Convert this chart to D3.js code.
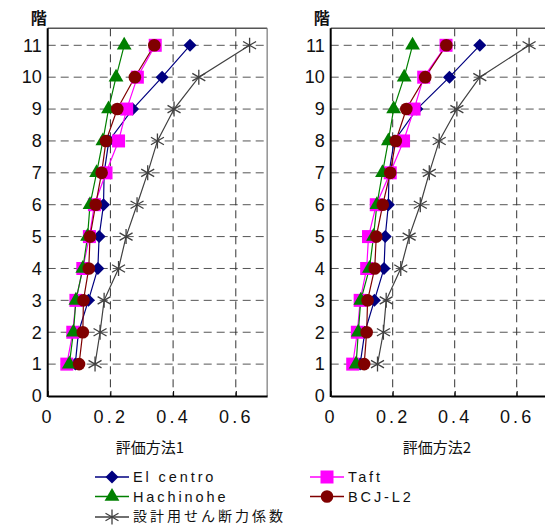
<!DOCTYPE html>
<html><head><meta charset="utf-8">
<script src="https://cdn.jsdelivr.net/npm/d3@7"></script>
<style>
body{margin:0;background:#fff;}
svg{display:block;font-family:"Liberation Sans","Noto Sans CJK JP",sans-serif;}
</style></head>
<body>
<svg id="chart" width="545" height="525"></svg>
<script>
const floors = [1,2,3,4,5,6,7,8,9,10,11];
const xTicks = [0, 0.2, 0.4, 0.6];
const xTickLabels = ["0", "0.2", "0.4", "0.6"];
const yTicks = [0,1,2,3,4,5,6,7,8,9,10,11];
const panelTitles = ["評価方法1", "評価方法2"];
const yAxisLabel = "階";
const seriesNames = ["El centro", "Taft", "Hachinohe", "BCJ-L2", "設計用せん断力係数"];

// Method 1 (left panel), floors 1..11
const elcentro1  = [0.088,0.098,0.130,0.160,0.164,0.178,0.180,0.195,0.271,0.365,0.454];
const taft1      = [0.061,0.080,0.090,0.112,0.133,0.149,0.186,0.226,0.252,0.286,0.343];
const hachinohe1 = [0.069,0.082,0.090,0.112,0.127,0.135,0.156,0.176,0.194,0.218,0.244];
const bcj1       = [0.100,0.112,0.114,0.131,0.135,0.153,0.172,0.186,0.222,0.278,0.340];
const design1    = [0.151,0.167,0.180,0.226,0.250,0.285,0.319,0.350,0.403,0.482,0.644];

// Method 2 (right panel)
const elcentro2  = [0.095,0.110,0.141,0.172,0.176,0.186,0.188,0.205,0.278,0.383,0.481];
const taft2      = [0.071,0.086,0.095,0.116,0.122,0.147,0.192,0.235,0.269,0.300,0.372];
const hachinohe2 = [0.082,0.089,0.097,0.125,0.138,0.149,0.167,0.186,0.203,0.237,0.264];
const bcj2       = [0.108,0.116,0.119,0.142,0.147,0.168,0.192,0.210,0.244,0.305,0.373];
const design2    = [0.151,0.170,0.179,0.226,0.253,0.289,0.318,0.350,0.407,0.481,0.640];

const colors = ["#000080","#ff00ff","#008000","#800000","#404040"];
const shapes = ["diamond","square","triangle","circle","asterisk"];

const svg = d3.select("#chart");

function symbolPath(shape){
  if(shape==="diamond") return "M0,-6.5L6.5,0L0,6.5L-6.5,0Z";
  if(shape==="square") return "M-6.5,-6.5H6.5V6.5H-6.5Z";
  if(shape==="triangle") return d3.symbol().type(d3.symbolTriangle).size(95)();
  if(shape==="circle") return d3.symbol().type(d3.symbolCircle).size(125)();
  const r = 7.5, a = r*Math.cos(Math.PI/6), b = r*Math.sin(Math.PI/6);
  return `M0,${-r}L0,${r}M${-a},${-b}L${a},${b}M${-a},${b}L${a},${-b}`;
}
function drawMarker(g, shape, color, x, y){
  const p = g.append("path").attr("d", symbolPath(shape)).attr("transform", `translate(${x},${y})`);
  if(shape==="asterisk") p.attr("fill","none").attr("stroke",color).attr("stroke-width",1.3);
  else p.attr("fill",color).attr("stroke","none");
}

const panels = [
  {x0:47.7, unit:313.5, data:[elcentro1,taft1,hachinohe1,bcj1,design1], title:panelTitles[0], titleX:150},
  {x0:330.7, unit:310, data:[elcentro2,taft2,hachinohe2,bcj2,design2], title:panelTitles[1], titleX:437}
];

panels.forEach(p=>{
  const x = d3.scaleLinear().domain([0,0.7]).range([p.x0, p.x0 + 0.7*p.unit]);
  const y = d3.scaleLinear().domain([0,11]).range([396, 45.3]);
  const yTop = 28.3, xR = x(0.7);
  const g = svg.append("g");

  g.append("g").selectAll("line").data(floors).join("line")
    .attr("x1", x(0)).attr("x2", xR).attr("y1", d=>y(d)).attr("y2", d=>y(d))
    .attr("stroke","#555").attr("stroke-width",1).attr("stroke-dasharray","8,5");
  g.append("g").selectAll("line").data(xTicks.slice(1)).join("line")
    .attr("x1", d=>x(d)).attr("x2", d=>x(d)).attr("y1", yTop).attr("y2", y(0))
    .attr("stroke","#333").attr("stroke-width",1).attr("stroke-dasharray","8,5");

  g.append("line").attr("x1",x(0)).attr("x2",xR).attr("y1",yTop).attr("y2",yTop).attr("stroke","#555").attr("stroke-width",1.5);
  g.append("line").attr("x1",xR).attr("x2",xR).attr("y1",yTop).attr("y2",y(0)).attr("stroke","#777").attr("stroke-width",1.2);

  const xAxis = d3.axisBottom(x).tickValues(xTicks).tickSizeInner(-5).tickSizeOuter(0).tickFormat((d,i)=>xTickLabels[i]);
  const gx = g.append("g").attr("transform",`translate(0,${y(0)})`).call(xAxis);
  gx.select(".domain").attr("stroke","#000").attr("stroke-width",2);
  gx.selectAll(".tick line").attr("stroke","#000");
  gx.selectAll(".tick text").attr("y",21).attr("dy","0.35em").attr("font-size",18)
    .attr("letter-spacing",3.2).attr("fill","#111").attr("font-family","Liberation Sans, sans-serif");

  const yAxis = d3.axisLeft(y).tickValues(yTicks).tickSizeInner(0).tickSizeOuter(0).tickPadding(6).tickFormat(d3.format("d"));
  const gy = g.append("g").attr("transform",`translate(${x(0)},0)`).call(yAxis);
  gy.select(".domain").attr("stroke","#000").attr("stroke-width",2).attr("d",`M0,${yTop}V${y(0)+1}`);
  gy.selectAll(".tick text").attr("font-size",18).attr("fill","#111").attr("font-family","Liberation Sans, sans-serif");

  g.append("text").attr("x", x(0)-9).attr("y", 24).attr("text-anchor","middle")
    .attr("font-size",16).attr("font-family","Noto Sans CJK JP").attr("font-weight","bold").attr("fill","#111").text(yAxisLabel);
  g.append("text").attr("x", p.titleX).attr("y", 453).attr("text-anchor","middle")
    .attr("font-size",15).attr("font-family","Noto Sans CJK JP").attr("fill","#111").text(p.title);

  const line = d3.line().x(d=>x(d[0])).y(d=>y(d[1]));
  const order = [0,1,2,3,4];
  order.forEach(si=>{
    const pts = p.data[si].map((v,i)=>[v, floors[i]]);
    g.append("path").attr("d", line(pts)).attr("fill","none").attr("stroke",colors[si]).attr("stroke-width",1.2);
  });
  order.forEach(si=>{
    p.data[si].forEach((v,i)=> drawMarker(g, shapes[si], colors[si], x(v), y(floors[i])));
  });
});

const legendItems = [
  {i:0, x:95, y:477},{i:1, x:310, y:477},
  {i:2, x:95, y:496.5},{i:3, x:310, y:496.5},
  {i:4, x:95, y:517}
];
const lg = svg.append("g");
legendItems.forEach(it=>{
  lg.append("line").attr("x1",it.x).attr("x2",it.x+34).attr("y1",it.y).attr("y2",it.y).attr("stroke",colors[it.i]).attr("stroke-width",1.3);
  drawMarker(lg, shapes[it.i], colors[it.i], it.x+17, it.y);
  lg.append("text").attr("x", it.x+38).attr("y", it.y).attr("dy", it.i===4?"0.25em":"0.36em")
    .attr("font-size", it.i===4?14:14.5).attr("letter-spacing", it.i===4?3:2.9).attr("fill","#111")
    .attr("font-family", it.i===4 ? "Noto Sans CJK JP" : "Liberation Sans, Noto Sans CJK JP")
    .text(seriesNames[it.i]);
});
</script>
</body></html>
